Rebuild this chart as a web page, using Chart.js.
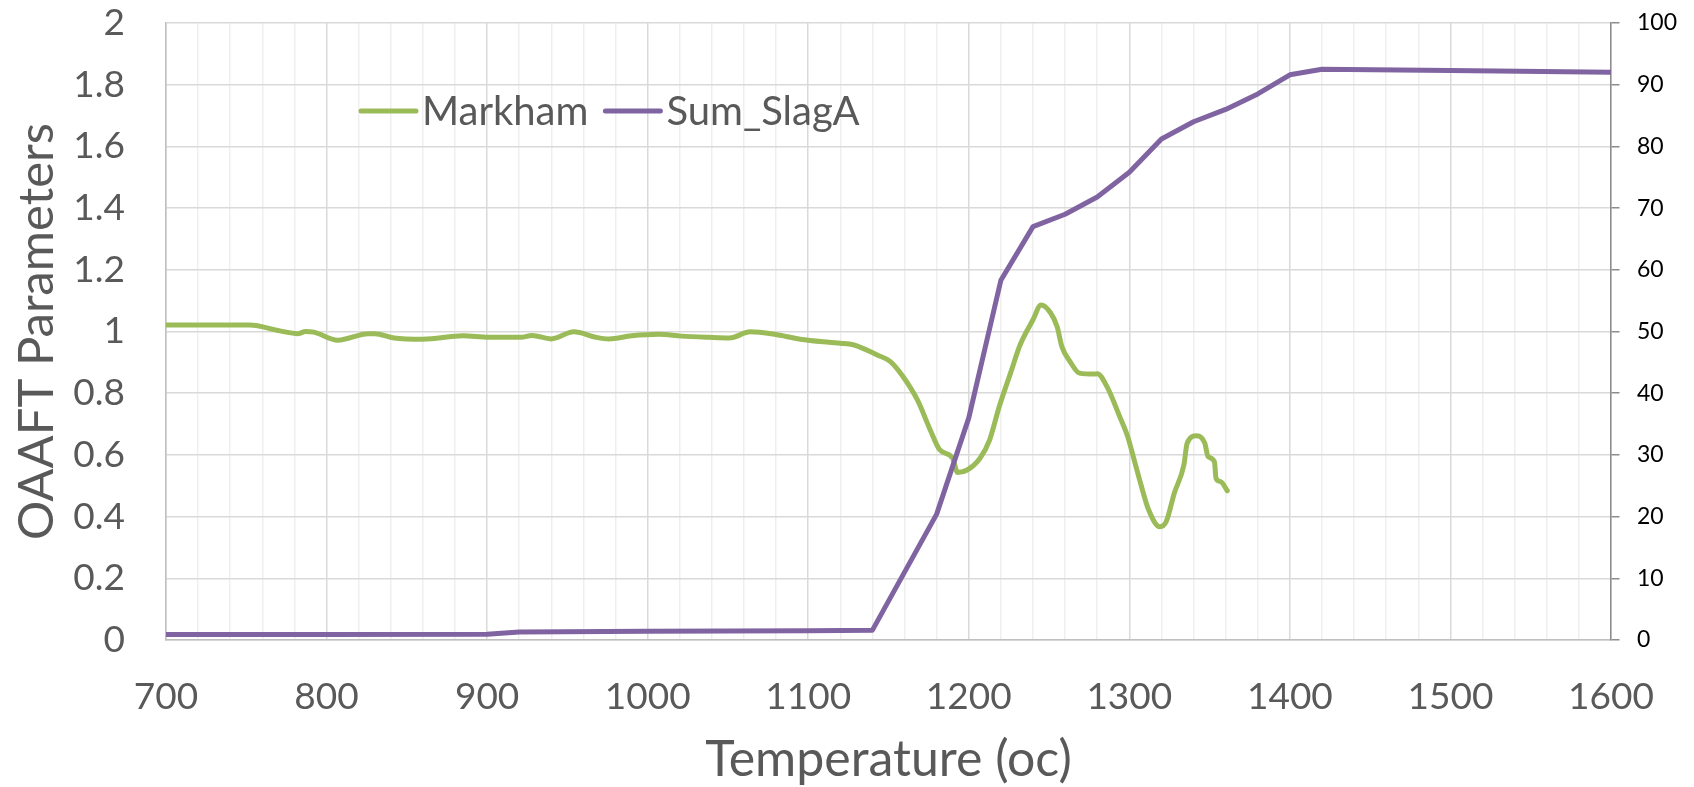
<!DOCTYPE html>
<html>
<head>
<meta charset="utf-8">
<script src="https://cdn.jsdelivr.net/npm/chart.js@4.4.1/dist/chart.umd.min.js"></script>
<style>
  html, body { margin: 0; padding: 0; background: #fff; }
  #wrap { width: 1694px; height: 787px; }
</style>
</head>
<body>
<div id="wrap"><canvas id="grafica"></canvas></div>
<script>
// Markham (eje izquierdo)
const markhamTemp = [700, 752, 771, 782, 787, 792, 807, 826, 830, 842, 860, 885, 901, 921, 928, 940, 954, 968, 976, 990,
  1007, 1021, 1038, 1051, 1064, 1079, 1095, 1113, 1120, 1128, 1143, 1151, 1159, 1168, 1176, 1182, 1190, 1193, 1199, 1207,
  1213, 1219, 1226, 1232, 1240, 1245, 1251, 1255, 1258, 1263, 1269, 1278, 1280, 1286, 1294, 1299, 1303, 1307, 1312, 1319,
  1323, 1328, 1334, 1336, 1342, 1347, 1349, 1353, 1354, 1357, 1361];
const markhamVal = [1.021, 1.021, 1.002, 0.993, 1.000, 0.998, 0.972, 0.993, 0.993, 0.979, 0.975, 0.986, 0.981, 0.981, 0.987, 0.976, 0.999, 0.981, 0.976, 0.986,
  0.991, 0.985, 0.981, 0.979, 0.999, 0.991, 0.975, 0.965, 0.962, 0.957, 0.924, 0.903, 0.854, 0.778, 0.681, 0.616, 0.589, 0.543, 0.551, 0.589,
  0.649, 0.757, 0.865, 0.957, 1.038, 1.086, 1.060, 1.016, 0.951, 0.903, 0.865, 0.862, 0.863, 0.822, 0.724, 0.659, 0.584, 0.508, 0.422, 0.367,
  0.384, 0.476, 0.568, 0.638, 0.662, 0.638, 0.595, 0.578, 0.524, 0.513, 0.484];

// Sum_SlagA (eje derecho)
const slagTemp = [700, 800, 900, 920, 1000, 1100, 1140, 1160, 1180, 1200, 1220, 1240, 1260, 1280, 1300, 1320, 1340, 1360, 1380, 1400, 1420, 1500, 1600];
const slagVal = [0.9, 0.9, 0.95, 1.3, 1.4, 1.5, 1.6, 11, 20.4, 36, 58.3, 67, 69, 71.8, 75.8, 81.2, 84, 86, 88.5, 91.6, 92.5, 92.3, 92.0];

const xTickLabels = [700, 800, 900, 1000, 1100, 1200, 1300, 1400, 1500, 1600];
const leftTickLabels = ['0', '0.2', '0.4', '0.6', '0.8', '1', '1.2', '1.4', '1.6', '1.8', '2'];
const rightTickLabels = ['0', '10', '20', '30', '40', '50', '60', '70', '80', '90', '100'];

const fuente = 'Lato';
const gris = '#595959';
const invisible = 'rgba(0,0,0,0)';

const leyendaInterna = {
  id: 'leyendaInterna',
  afterDatasetsDraw(chart) {
    const {ctx, chartArea} = chart;
    let x = chartArea.left + 195;
    const y = chartArea.top + 88;
    ctx.save();
    ctx.font = `40px ${fuente}`;
    ctx.textBaseline = 'middle';
    chart.data.datasets.forEach(ds => {
      ctx.strokeStyle = ds.borderColor;
      ctx.lineWidth = 5;
      ctx.lineCap = 'round';
      ctx.beginPath();
      ctx.moveTo(x, y);
      ctx.lineTo(x + 55, y);
      ctx.stroke();
      ctx.fillStyle = gris;
      ctx.fillText(ds.label, x + 61, y + 1);
      x += 61 + ctx.measureText(ds.label).width + 17;
    });
    ctx.restore();
  }
};

new Chart(document.getElementById('grafica'), {
  type: 'line',
  data: {
    datasets: [
      {
        label: 'Markham',
        data: markhamTemp.map((t, i) => ({x: t, y: markhamVal[i]})),
        borderColor: '#9BBB59',
        borderWidth: 5,
        pointRadius: 0,
        cubicInterpolationMode: 'monotone',
        borderCapStyle: 'round',
        borderJoinStyle: 'round',
        yAxisID: 'y',
        order: 1
      },
      {
        label: 'Sum_SlagA',
        data: slagTemp.map((t, i) => ({x: t, y: slagVal[i]})),
        borderColor: '#8064A2',
        borderWidth: 5,
        pointRadius: 0,
        tension: 0,
        borderCapStyle: 'round',
        borderJoinStyle: 'round',
        yAxisID: 'y2',
        order: 0
      }
    ]
  },
  options: {
    responsive: true,
    maintainAspectRatio: false,
    animation: false,
    layout: { padding: { top: 23, left: 0, right: 0, bottom: 0 } },
    plugins: { legend: { display: false }, tooltip: { enabled: false } },
    scales: {
      x: {
        type: 'linear',
        min: 700,
        max: 1600,
        afterFit: s => { s.height = 147; },
        ticks: {
          stepSize: 20,
          autoSkip: false,
          maxRotation: 0,
          padding: 0,
          color: gris,
          font: { family: fuente, size: 37 },
          callback: v => xTickLabels.includes(Math.round(v)) ? String(Math.round(v)) : ''
        },
        grid: {
          drawTicks: true,
          tickLength: 35,
          tickColor: invisible,
          lineWidth: 1.5,
          color: c => (c.tick && Math.round(c.tick.value) % 100 === 0) ? '#d9d9d9' : '#efefef'
        },
        border: { color: '#bfbfbf', width: 1.5 },
        title: {
          display: true,
          text: 'Temperature (oc)',
          color: gris,
          font: { family: fuente, size: 50, lineHeight: 1 },
          padding: { top: 0, bottom: 2 }
        }
      },
      y: {
        position: 'left',
        min: 0,
        max: 2,
        afterFit: s => { s.width = 166; },
        ticks: {
          stepSize: 0.2,
          padding: 0,
          color: gris,
          font: { family: fuente, size: 37 },
          callback: (v, i) => leftTickLabels[i]
        },
        grid: { drawTicks: true, tickLength: 41, tickColor: invisible, lineWidth: 1.5, color: '#d9d9d9' },
        border: { color: '#bfbfbf', width: 1.5 },
        title: {
          display: true,
          text: 'OAAFT Parameters',
          color: gris,
          font: { family: fuente, size: 49, lineHeight: 1.2 },
          padding: { top: 8, bottom: 0 }
        }
      },
      y2: {
        position: 'right',
        min: 0,
        max: 100,
        afterFit: s => { s.width = 83; },
        ticks: {
          stepSize: 10,
          padding: 0,
          color: '#000',
          font: { family: fuente, size: 23 },
          callback: (v, i) => rightTickLabels[i]
        },
        grid: {
          drawOnChartArea: false,
          drawTicks: true,
          tickLength: 26,
          tickBorderDash: [8, 40],
          tickColor: '#8c8c8c',
          lineWidth: 1.5
        },
        border: { color: '#8c8c8c', width: 1.5 }
      }
    }
  },
  plugins: [leyendaInterna]
});
</script>
</body>
</html>
